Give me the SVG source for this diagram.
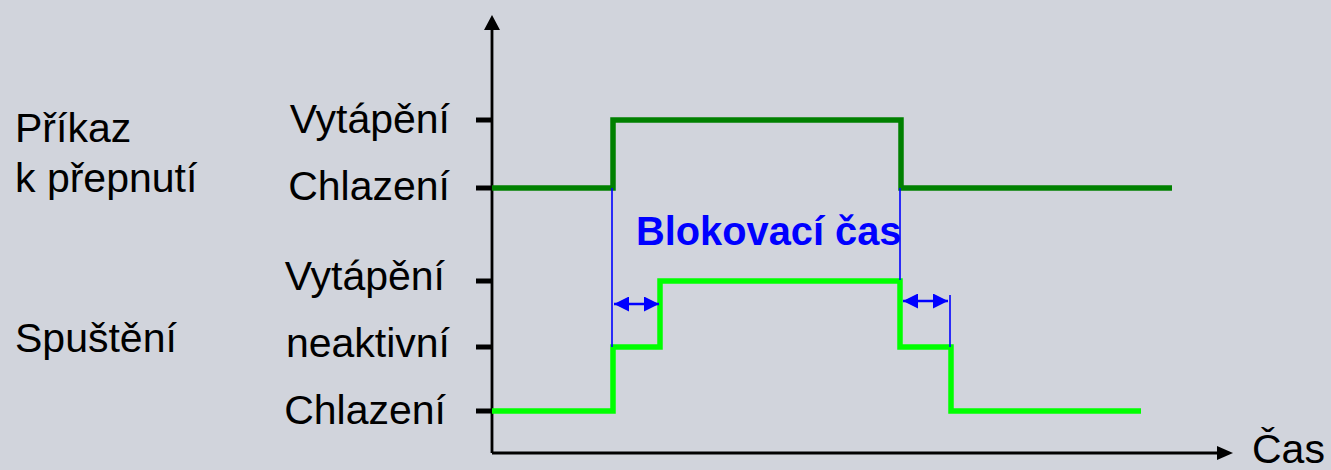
<svg xmlns="http://www.w3.org/2000/svg" width="1331" height="470" viewBox="0 0 1331 470">
<style>
.lbl{font-family:"Liberation Sans",Arial,sans-serif;font-size:41px;fill:#000}
.r{text-anchor:end}
.blk{font-family:"Liberation Sans",Arial,sans-serif;font-size:39.8px;font-weight:bold;fill:#0000FF}
.axis{stroke:#000;stroke-width:2.8;fill:none}
.tick{stroke:#000;stroke-width:5;fill:none}
.dk{stroke:#008000;stroke-width:5.5;fill:none;stroke-linejoin:miter}
.lt{stroke:#00FF00;stroke-width:5.5;fill:none;stroke-linejoin:miter}
.bl{stroke:#0000FF;stroke-width:1.6;fill:none}
.dbl{stroke:#0000FF;stroke-width:2.5;fill:none}
</style>
<defs>
<marker id="ah" viewBox="0 0 10 10" refX="10" refY="5" markerWidth="15" markerHeight="15" markerUnits="userSpaceOnUse" orient="auto-start-reverse">
<path d="M0,0 L10,5 L0,10 Z" fill="#0000FF"/>
</marker>
</defs>
<rect width="1331" height="470" fill="#D1D4DC"/>
<g id="axes">
<line class="axis" x1="492" y1="28" x2="492" y2="453"/>
<path d="M492,15 L484,30 L500,30 Z" fill="#000"/>
<line class="axis" x1="492" y1="453" x2="1219" y2="453"/>
<path d="M1233,453 L1217,446 L1217,460 Z" fill="#000"/>
<line class="tick" x1="476" y1="120" x2="492" y2="120"/>
<line class="tick" x1="476" y1="188" x2="492" y2="188"/>
<line class="tick" x1="476" y1="281" x2="492" y2="281"/>
<line class="tick" x1="476" y1="347" x2="492" y2="347"/>
<line class="tick" x1="476" y1="411" x2="492" y2="411"/>
</g>
<g id="labels">
<text class="lbl" x="15" y="142">Příkaz</text>
<text class="lbl" x="15" y="192">k přepnutí</text>
<text class="lbl" x="15" y="352">Spuštění</text>
<text class="lbl r" x="450" y="133">Vytápění</text>
<text class="lbl r" x="450" y="200">Chlazení</text>
<text class="lbl r" x="445" y="290">Vytápění</text>
<text class="lbl r" x="450" y="357">neaktivní</text>
<text class="lbl r" x="446" y="424">Chlazení</text>
<text class="lbl" x="1252" y="463">Čas</text>
</g>
<g id="command-signal">
<path class="dk" d="M492,188 L613,188 L613,120 L901,120 L901,188 L1172,188"/>
</g>
<g id="run-signal">
<path class="lt" d="M492,411 L613,411 L613,347 L660,347 L660,281 L900,281 L900,347 L951,347 L951,411 L1141,411"/>
</g>
<g id="connectors">
<line class="bl" x1="612" y1="188" x2="612" y2="347"/>
<line class="bl" x1="900" y1="188" x2="900" y2="280"/>
<line class="bl" x1="950" y1="295" x2="950" y2="347"/>
<line class="dbl" x1="614" y1="304" x2="659" y2="304" marker-start="url(#ah)" marker-end="url(#ah)"/>
<line class="dbl" x1="903" y1="301" x2="948" y2="301" marker-start="url(#ah)" marker-end="url(#ah)"/>
</g>
<g id="blocking-label">
<text class="blk" x="636" y="245">Blokovací čas</text>
</g>
</svg>
